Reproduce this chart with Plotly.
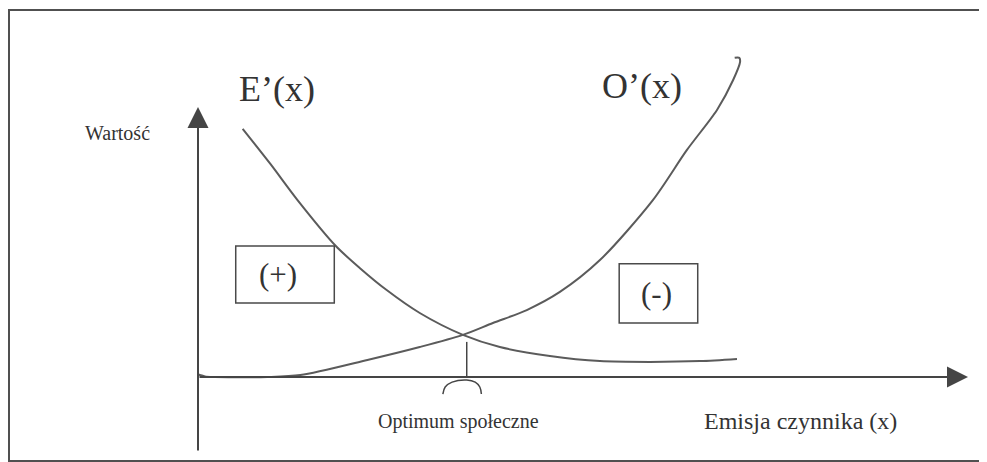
import plotly.graph_objects as go

# Diagram units: origin at the axes crossing, 1 unit = 77 px across, 27 px up.
# The page puts the figure 8 px in from the window corner, hence 190/369.
X0_PX, Y0_PX, PX_X, PX_Y = 190, 369, 77, 27
W, H = 987, 462

# E'(x) - falling curve
e_x = [0.58, 0.94, 1.29, 1.79, 2.10, 2.45, 2.88, 3.44, 3.92, 4.57, 5.22, 5.87, 6.52, 7.00]
e_y = [9.19, 7.89, 6.56, 4.85, 4.04, 3.22, 2.37, 1.56, 1.11, 0.78, 0.59, 0.56, 0.59, 0.67]

# O'(x) - rising curve (with the small hook at the top)
o_x = [-0.01, 0.09, 0.22, 0.90, 1.33, 2.20, 2.88, 3.44, 3.83, 4.27, 4.70, 5.22, 5.91, 6.35, 6.74, 6.95, 7.04, 7.03, 6.97]
o_y = [0.11, 0.02, 0.00, 0.00, 0.07, 0.63, 1.11, 1.56, 2.00, 2.48, 3.15, 4.33, 6.56, 8.41, 9.89, 11.00, 11.67, 11.82, 11.82]

# social optimum marker: tick and brace under the axis
opt_x = 3.49
tick_y = [1.30, 0.0]
brace_x = [3.18, 3.21, 3.30, 3.49, 3.60, 3.66, 3.68]
brace_y = [-0.63, -0.37, -0.19, -0.11, -0.19, -0.37, -0.63]

x_axis_end = 10.0
y_axis_end = 10.0
y_axis_start = -2.78

curve_col = "#5b5b5b"
axis_col = "#454545"
serif = "Liberation Serif, Times New Roman, serif"

fig = go.Figure()

fig.add_trace(go.Scatter(x=e_x, y=e_y, mode="lines",
                         line=dict(color=curve_col, width=2, shape="spline", smoothing=0.8),
                         hoverinfo="skip"))
fig.add_trace(go.Scatter(x=o_x, y=o_y, mode="lines",
                         line=dict(color=curve_col, width=2, shape="spline", smoothing=0.8),
                         hoverinfo="skip"))
fig.add_trace(go.Scatter(x=[opt_x, opt_x], y=tick_y, mode="lines",
                         line=dict(color=axis_col, width=1.5), hoverinfo="skip"))
fig.add_trace(go.Scatter(x=brace_x, y=brace_y, mode="lines",
                         line=dict(color=axis_col, width=1.5, shape="spline"),
                         hoverinfo="skip"))

annotations = []
# axes with arrow heads
annotations.append(dict(x=0, y=y_axis_end, ax=0, ay=y_axis_start, xref="x", yref="y",
                        axref="x", ayref="y", showarrow=True, arrowhead=2, arrowsize=2.1,
                        arrowwidth=2, arrowcolor=axis_col, text=""))
annotations.append(dict(x=x_axis_end, y=0, ax=0, ay=0, xref="x", yref="y",
                        axref="x", ayref="y", showarrow=True, arrowhead=2, arrowsize=2.1,
                        arrowwidth=2, arrowcolor=axis_col, text=""))

labels = [
    ("E\u2019(x)", 1.03, 10.67, 36),
    ("O\u2019(x)", 5.77, 10.78, 36),
    ("Warto\u015b\u0107", -1.04, 9.04, 20),
    ("(+)", 1.04, 3.80, 31),
    ("(-)", 5.96, 3.09, 31),
    ("Optimum spo\u0142eczne", 3.38, -1.63, 20),
    ("Emisja czynnika (x)", 7.83, -1.63, 24),
]
for txt, lx, ly, size in labels:
    annotations.append(dict(x=lx, y=ly, xref="x", yref="y", text=txt, showarrow=False,
                            xanchor="center", yanchor="middle",
                            font=dict(family=serif, size=size, color="#333333")))

shapes = [
    # outer frame of the scanned figure
    dict(type="rect", xref="paper", yref="paper", x0=1 / W, x1=1.01, y0=1 - 453 / H, y1=1 - 2 / H,
         line=dict(color="#505050", width=2)),
    # (+) and (-) boxes
    dict(type="rect", xref="x", yref="y", x0=0.49, x1=1.77, y0=2.74, y1=4.85,
         line=dict(color="#4a4a4a", width=1.5)),
    dict(type="rect", xref="x", yref="y", x0=5.47, x1=6.49, y0=2.00, y1=4.19,
         line=dict(color="#4a4a4a", width=1.5)),
]

fig.update_layout(
    width=W, height=H,
    margin=dict(l=0, r=0, t=0, b=0),
    paper_bgcolor="white", plot_bgcolor="white",
    showlegend=False,
    xaxis=dict(range=[-X0_PX / PX_X, (W - X0_PX) / PX_X], visible=False, fixedrange=True),
    yaxis=dict(range=[(Y0_PX - H) / PX_Y, Y0_PX / PX_Y], visible=False, fixedrange=True),
    annotations=annotations,
    shapes=shapes,
)

fig.write_html("out.html")
